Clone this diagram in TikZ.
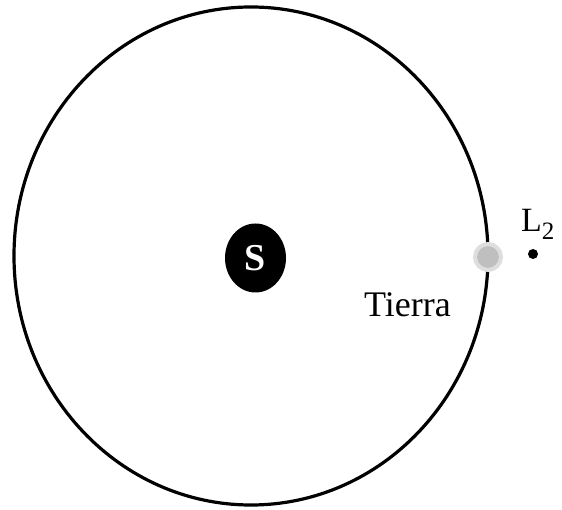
\documentclass[tikz,border=0pt]{standalone}
\usepackage{fontspec}
\setmainfont{Liberation Serif}
\usetikzlibrary{shapes.geometric}

\tikzset{
  bigtext/.style={font=\fontsize{36}{40}\selectfont},
  sunbody/.style={ellipse, fill=black, text=white, inner sep=0pt,
    minimum width=61pt, minimum height=69pt},
  earthbody/.style={circle, fill=black!25, draw=black!13, line width=4pt,
    inner sep=0pt, minimum size=26pt},
  pointbody/.style={circle, fill=black, inner sep=0pt, minimum size=10pt}
}

\begin{document}
\begin{tikzpicture}[x=1pt, y=-1pt]
  \useasboundingbox (0,0) rectangle (562,510);

  % orbit
  \draw[line width=3.2pt] (251,256) ellipse [x radius=237, y radius=249];

  % Sun, Earth and L2
  \node[sunbody, font=\fontsize{38}{40}\selectfont\bfseries] (sun) at (255.5,258) {S};
  \node[earthbody] (earth) at (488,257) {};
  \node[pointbody] (ltwo) at (533,254) {};

  % labels
  \node[bigtext, anchor=base west, inner sep=0pt] (tierra) at (364,317) {Tierra};
  \node[font=\fontsize{34}{38}\selectfont, anchor=base west, inner sep=0pt] (ltwolabel) at (521,232)
    {L\raisebox{-8pt}{\fontsize{25}{25}\selectfont 2}};
\end{tikzpicture}
\end{document}
